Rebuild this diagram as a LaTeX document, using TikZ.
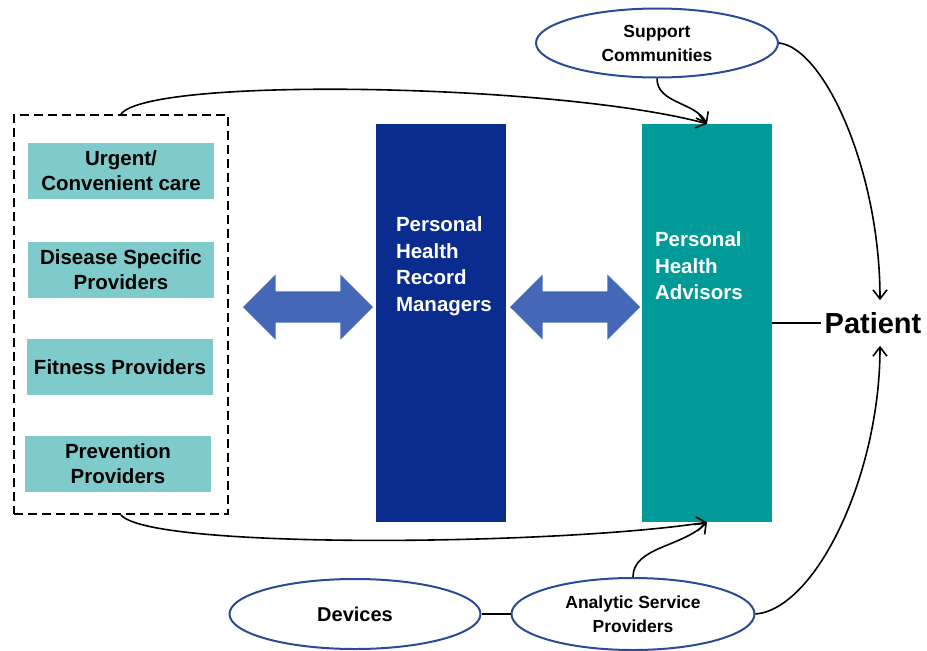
\documentclass[tikz,border=0pt]{standalone}
\usepackage{fontspec}
\setmainfont{Liberation Sans}
\usetikzlibrary{shapes.geometric, shapes.arrows, arrows.meta, positioning, calc}

\definecolor{provteal}{HTML}{7FCBCB}
\definecolor{recblue}{HTML}{0A2C8E}
\definecolor{advteal}{HTML}{009A98}
\definecolor{arrowblue}{HTML}{4467B7}
\definecolor{ellblue}{HTML}{2C4A96}

\begin{document}
\begin{tikzpicture}[
    x=1pt, y=-1pt,
    provider/.style={rectangle, fill=provteal, minimum width=186pt, minimum height=56pt, inner sep=0, align=center, font=\bfseries\fontsize{20.5}{25}\selectfont},
    groupbox/.style={rectangle, draw, line width=2pt, dash pattern=on 9pt off 5pt, minimum width=214pt, minimum height=399pt, inner sep=0},
    pillar/.style={rectangle, minimum width=130pt, minimum height=398pt, inner sep=0},
    pillartext/.style={anchor=north west, align=left, text=white, inner sep=0, font=\bfseries\fontsize{20.5}{26.5}\selectfont},
    bubble/.style={ellipse, draw=ellblue, line width=2pt, inner sep=0, align=center},
    dblarrow/.style={double arrow, fill=arrowblue, inner xsep=0, inner ysep=15.5pt, minimum height=130pt, double arrow head extend=17pt, double arrow tip angle=90},
    link/.style={line width=1.6pt, -{Straight Barb[length=9pt,width=14pt]}}
]
\useasboundingbox (0,0) rectangle (927,651);

\node[groupbox] (group) at (121,314.5) {};
\node[provider] (urgent) at (121,171) {Urgent/\\Convenient care};
\node[provider] (disease) at (121,269.5) {Disease Specific\\Providers};
\node[provider] (fitness) at (120,367) {Fitness Providers};
\node[provider] (prevent) at (118,464) {Prevention\\Providers};

\node[pillar, fill=recblue] (phr) at (441,323) {};
\node[pillartext] (phrtext) at ($(phr.north west)+(20,93)$) {Personal\\Health\\Record\\Managers};

\node[pillar, fill=advteal] (pha) at (707,323) {};
\node[pillartext] (phatext) at ($(pha.north west)+(13,108)$) {Personal\\Health\\Advisors};

\node[dblarrow] (arr1) at (308,307) {};
\node[dblarrow] (arr2) at (575,307) {};

\node[font=\bfseries\fontsize{29}{34}\selectfont, inner ysep=12pt] (patient) at (873,323) {Patient};

\node[bubble, minimum width=242pt, minimum height=69pt, font=\bfseries\fontsize{17.5}{24}\selectfont] (support) at (657,43) {Support\\Communities};
\node[bubble, minimum width=251pt, minimum height=70pt, font=\bfseries\fontsize{20}{24}\selectfont] (devices) at (355,614) {Devices};
\node[bubble, minimum width=243pt, minimum height=72pt, font=\bfseries\fontsize{17.5}{24}\selectfont] (analytic) at (633,614) {Analytic Service\\Providers};

\draw[line width=2pt] (pha.east) -- (patient.west);
\draw[line width=2pt] (devices.east) -- (analytic.west);

\draw[link] (group.north) .. controls +(30,-38) and +(-147,-40) .. (pha.north);
\draw[link] (group.south) .. controls +(30,35) and +(-147,23) .. (pha.south);
\draw[link] (support.south) .. controls +(0,25) and +(-12,-22) .. (pha.north);
\draw[link] (analytic.north) .. controls +(0,-30) and +(-25,25) .. (pha.south);
\draw[link] (support.east) .. controls +(45,5) and +(0,-130) .. ([xshift=7pt]patient.north);
\draw[link] (analytic.east) .. controls +(60,-5) and +(0,130) .. ([xshift=7pt]patient.south);

\end{tikzpicture}
\end{document}
